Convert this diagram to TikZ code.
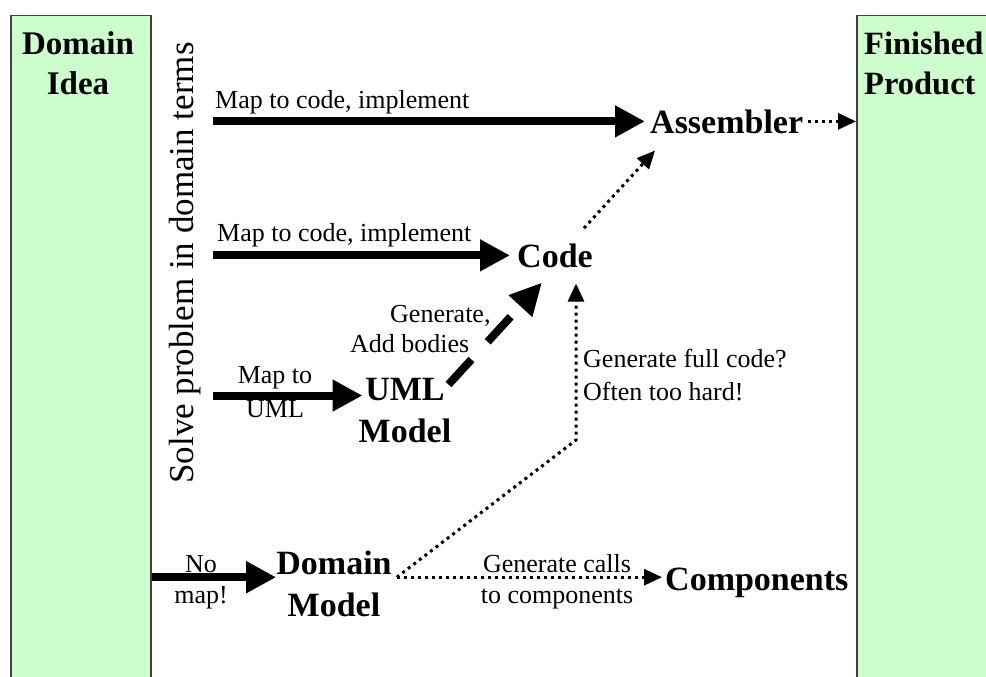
\documentclass[tikz,border=0pt]{standalone}
\usepackage{fontspec}
\setmainfont{Liberation Serif}
\usetikzlibrary{arrows.meta,calc}
\definecolor{ideagreen}{HTML}{CCFFCC}
\definecolor{boxline}{HTML}{404040}

\begin{document}
\begin{tikzpicture}[x=1pt,y=-1pt,
  lanebox/.style={draw=boxline,line width=1.5pt,fill=ideagreen,anchor=north west,
    minimum height=700pt,inner sep=0pt},
  title/.style={font=\fontsize{33}{40}\selectfont\bfseries,inner sep=0pt,align=center},
  artifact/.style={font=\fontsize{34}{42}\selectfont\bfseries,inner sep=0pt,align=center},
  note/.style={font=\fontsize{26}{31}\selectfont,inner sep=0pt},
  bigarrow/.style={line width=8pt,-{Triangle[length=30pt,width=30pt]}},
  dotarrow/.style={line width=3pt,dash pattern=on 3pt off 4pt,-{Triangle[length=18pt,width=16pt]}},
  dasharrow/.style={line width=8pt,dash pattern=on 34pt off 24pt,-{Triangle[length=32pt,width=30pt]}},
]
\useasboundingbox (0,0) rectangle (986,677);
\fill[white] (0,0) rectangle (986,677);

% the two end points of the process (multi-line nodes sit on their last baseline)
\node[lanebox,minimum width=140pt] (ideabox) at (10,15) {};
\node[lanebox,minimum width=160pt] (finbox) at (856,15) {};
\node[title,anchor=base] (idea) at (78,95) {Domain\\Idea};
\node[title,anchor=base west,align=left,font=\fontsize{32.5}{40}\selectfont\bfseries] (fin) at (864,95) {Finished\\Product};

% vertical caption
\node[font=\fontsize{35}{40}\selectfont,inner sep=0pt,rotate=90,anchor=base] (solve) at (193,263) {Solve problem in domain terms};
\coordinate (lane) at (213,0);

% artifacts
\node[artifact,anchor=base west] (asm) at (650,133) {Assembler};
\node[artifact,anchor=base west] (code) at (517,267) {Code};
\node[artifact,anchor=base] (uml) at (405,442) {UML\\Model};
\node[artifact,anchor=base] (dom) at (334,616) {Domain\\Model};
\node[artifact,anchor=base west] (comp) at (665,590) {Components};

% route 1: straight to code, assembled
\draw[bigarrow] (lane |- asm.west) -- ([xshift=-5pt]asm.west);
\node[note,anchor=base west] (lab1) at (215,108) {Map to code, implement};

% route 2: code
\draw[bigarrow] (lane |- code.west) -- ([xshift=-7pt]code.west);
\node[note,anchor=base west] (lab2) at (217,241) {Map to code, implement};
\draw[dotarrow] ([shift={(-9,-15)}]code.north east) -- ([shift={(5,17)}]asm.south west);

% route 3: via UML
\coordinate (t3) at ([shift={(4,18)}]uml.north west);
\draw[bigarrow] (lane |- t3) -- (t3);
\node[note,align=center,anchor=base,font=\fontsize{26}{34}\selectfont] (lab3) at (275,417) {Map to\\UML};
\draw[dasharrow] ([shift={(-3,7)}]uml.north east) -- ([shift={(25,15)}]code.south west);
\node[note,align=left,anchor=base west,font=\fontsize{26}{30}\selectfont] (lab4) at (350,352) {\hspace*{40pt}Generate,\\Add bodies};

% route 4: domain model
\coordinate (t4) at ([shift={(0,27)}]dom.north west);
\draw[bigarrow] (ideabox.east |- t4) -- (t4);
\node[note,align=center,anchor=base,font=\fontsize{26}{31}\selectfont] (lab5) at (201,603) {No\\map!};
\coordinate (d0) at ([shift={(5,27)}]dom.north east);
\coordinate (knee) at (576,440);
\draw[dotarrow] (d0) -- (knee) -- ($(knee |- code.south)+(0,16)$);
\node[note,align=left,anchor=base west,font=\fontsize{26}{33}\selectfont] (lab6) at (583,400) {Generate full code?\\Often too hard!};
\draw[dotarrow] (d0) -- ($(d0 -| comp.west)+(-3,0)$);
\node[note,align=center,anchor=base,font=\fontsize{26}{31}\selectfont] (lab7) at (557,603) {Generate calls\\to components};

% finished product
\draw[dotarrow] ([xshift=5pt]asm.east) -- (asm.east -| finbox.west);
\end{tikzpicture}
\end{document}
